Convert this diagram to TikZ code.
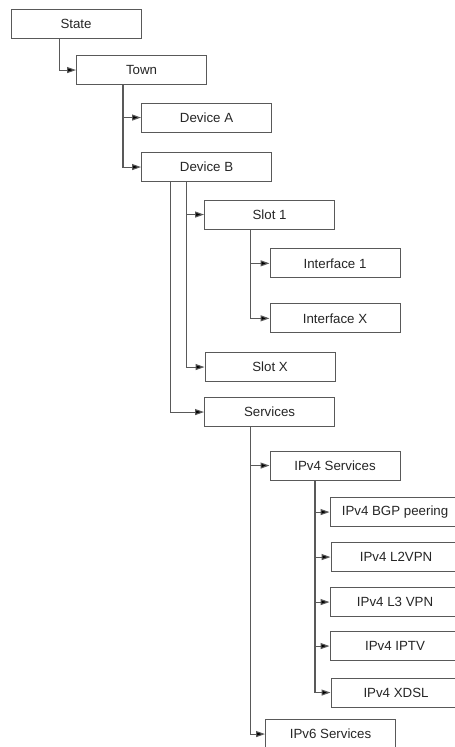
\documentclass[tikz,border=0pt]{standalone}
\usepackage{fontspec}
\setmainfont{Liberation Sans}
\usetikzlibrary{arrows.meta,calc}
\begin{document}
\begin{tikzpicture}[x=1pt,y=-1pt,
  box/.style={draw=black!65,line width=1.1pt,minimum width=130pt,minimum height=29pt,inner sep=0pt,anchor=north west,font=\fontsize{13.3}{15}\selectfont,text=black!85},
  conn/.style={draw=black!65,line width=1.1pt,-{Triangle[length=9pt,width=6pt,fill=black]}}]
\clip (0,0) rectangle (455,747);
\fill[white] (0,0) rectangle (455,747);
\node[box] (state) at (10.5,8.5) {State};
\node[box] (town) at (76,55) {Town};
\node[box] (devA) at (141,102.5) {Device A};
\node[box] (devB) at (141,152) {Device B};
\node[box] (slot1) at (204,199.5) {Slot 1};
\node[box] (int1) at (269.5,248.3) {Interface 1};
\node[box] (intX) at (269.5,303.3) {Interface X};
\node[box] (slotX) at (204.5,352) {Slot X};
\node[box] (serv) at (204,397) {Services};
\node[box] (ipv4) at (269.5,450.5) {IPv4 Services};
\node[box] (bgp) at (329.5,497) {IPv4 BGP peering};
\node[box] (l2) at (330.5,542) {IPv4 L2VPN};
\node[box] (l3) at (329.5,587) {IPv4 L3 VPN};
\node[box] (iptv) at (329.5,631) {IPv4 IPTV};
\node[box] (xdsl) at (330.5,677.5) {IPv4 XDSL};
\node[box] (ipv6) at (265,719) {IPv6 Services};
% trunk start points
\coordinate (tState) at ($(state.south west)+(48.8,0)$);
\coordinate (tTown) at ($(town.south west)+(47,0)$);
\coordinate (tDevB1) at ($(devB.south west)+(45.7,0)$);
\coordinate (tDevB2) at ($(devB.south west)+(29.7,0)$);
\coordinate (tSlot) at ($(slot1.south west)+(46.7,0)$);
\coordinate (tServ) at ($(serv.south west)+(46.7,0)$);
\coordinate (tIpv4) at ($(ipv4.south west)+(45.5,0)$);
% connectors
\draw[conn] (tState) |- (town.west);
\draw[conn] (tTown) |- (devB.west);
\draw[conn] (tTown |- devA.west) -- (devA.west);
\draw[conn] (tDevB1) |- (slotX.west);
\draw[conn] (tDevB1 |- slot1.west) -- (slot1.west);
\draw[conn] (tDevB2) |- (serv.west);
\draw[conn] (tSlot) |- (intX.west);
\draw[conn] (tSlot |- int1.west) -- (int1.west);
\draw[conn] (tServ) |- (ipv6.west);
\draw[conn] (tServ |- ipv4.west) -- (ipv4.west);
\draw[conn] (tIpv4) |- (xdsl.west);
\draw[conn] (tIpv4 |- bgp.west) -- (bgp.west);
\draw[conn] (tIpv4 |- l2.west) -- (l2.west);
\draw[conn] (tIpv4 |- l3.west) -- (l3.west);
\draw[conn] (tIpv4 |- iptv.west) -- (iptv.west);
\end{tikzpicture}
\end{document}
